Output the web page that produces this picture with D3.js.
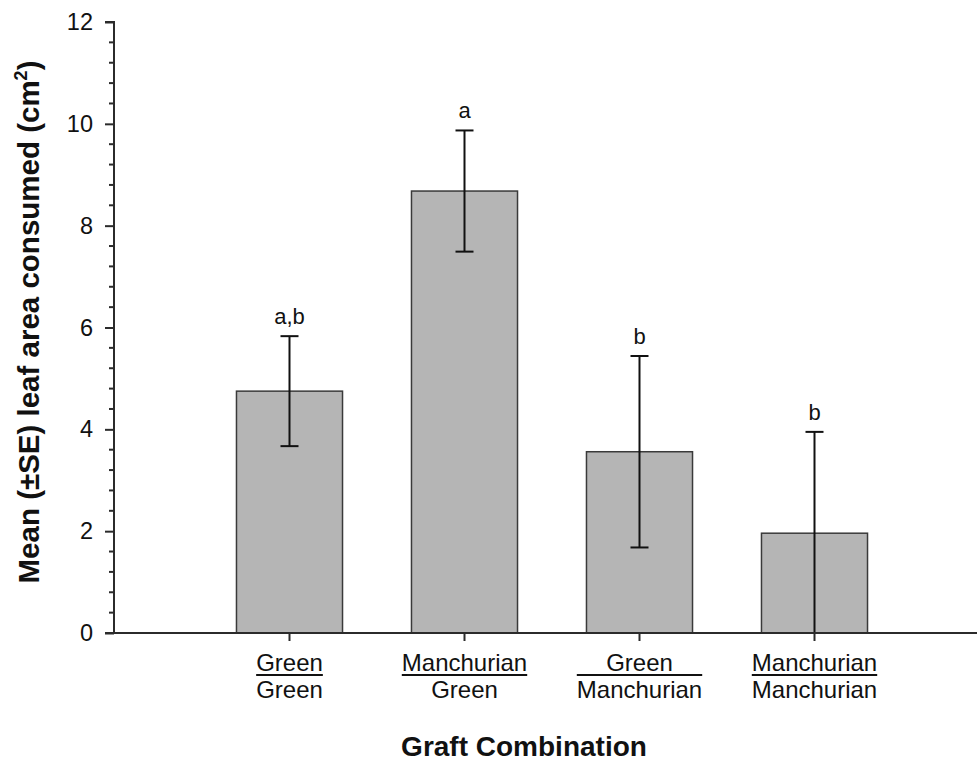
<!DOCTYPE html>
<html>
<head>
<meta charset="utf-8">
<script src="https://cdn.jsdelivr.net/npm/d3@7"></script>
<style>
  body { margin: 0; background: #fff; }
  svg { display: block; font-family: "Liberation Sans", Arial, Helvetica, sans-serif; }
</style>
</head>
<body>
<svg id="chart" width="977" height="763"></svg>
<script>
// ---- data ----
const scions = ["Green", "Manchurian", "Green", "Manchurian"];      // numerator (top)
const rootstocks = ["Green", "Green", "Manchurian", "Manchurian"];   // denominator (bottom)
const means = [4.75, 8.68, 3.56, 1.96];
const se = [1.08, 1.19, 1.88, 1.99];
const letters = ["a,b", "a", "b", "b"];
const yTicks = [0, 2, 4, 6, 8, 10, 12];

const svg = d3.select("#chart");
const axisColor = "#2b2b2b";
const x0 = 114, yBottom = 633, yTop = 22;

const cats = means.map((d, i) => i);
const x = d3.scaleBand().domain(cats).range([202, 902]).paddingInner(0.394).paddingOuter(0.197);
const y = d3.scaleLinear().domain([0, 12]).range([yBottom, yTop]);

// bars
svg.append("g").selectAll("rect").data(means).join("rect")
  .attr("x", (d, i) => x(i))
  .attr("y", d => y(d))
  .attr("width", x.bandwidth())
  .attr("height", d => y(0) - y(d))
  .attr("fill", "#b5b5b5")
  .attr("stroke", "#3a3a3a")
  .attr("stroke-width", 1.5);

// error bars
const capW = 9;
const eb = svg.append("g").attr("stroke", "#111").attr("stroke-width", 2);
means.forEach((m, i) => {
  const cx = x(i) + x.bandwidth() / 2;
  const hi = m + se[i], lo = Math.max(0, m - se[i]);
  eb.append("line").attr("x1", cx).attr("x2", cx).attr("y1", y(hi)).attr("y2", y(lo));
  eb.append("line").attr("x1", cx - capW).attr("x2", cx + capW).attr("y1", y(hi)).attr("y2", y(hi));
  if (lo > 0) eb.append("line").attr("x1", cx - capW).attr("x2", cx + capW).attr("y1", y(lo)).attr("y2", y(lo));
  svg.append("text").attr("x", cx).attr("y", y(hi) - 12)
    .attr("text-anchor", "middle").attr("font-size", 22).attr("fill", "#111")
    .text(letters[i]);
});

// y axis minor ticks
const minor = d3.range(0, 12.001, 0.4).filter(v => Math.abs(v / 2 - Math.round(v / 2)) > 1e-6);
svg.append("g").selectAll("line").data(minor).join("line")
  .attr("x1", x0 - 5).attr("x2", x0).attr("y1", d => y(d)).attr("y2", d => y(d))
  .attr("stroke", axisColor).attr("stroke-width", 2);

// y axis
const yAxis = svg.append("g").attr("transform", `translate(${x0},0)`)
  .call(d3.axisLeft(y).tickValues(yTicks).tickSize(9).tickPadding(12).tickFormat(d3.format("d")));
yAxis.select(".domain").attr("stroke", axisColor).attr("stroke-width", 2).attr("d", `M-9,${yTop}H0V${yBottom}`);
yAxis.selectAll(".tick line").attr("stroke", axisColor).attr("stroke-width", 2);
yAxis.selectAll(".tick text").attr("font-size", 23.5).attr("fill", "#111")
  .attr("font-family", "'Liberation Sans', Arial, sans-serif");

// x axis line
svg.append("line").attr("x1", x0 - 9).attr("x2", 977).attr("y1", yBottom).attr("y2", yBottom)
  .attr("stroke", axisColor).attr("stroke-width", 2);

// x ticks & labels
const xg = svg.append("g").attr("transform", `translate(0,${yBottom})`)
  .call(d3.axisBottom(x).tickSize(8).tickFormat(""));
xg.select(".domain").remove();
xg.selectAll(".tick line").attr("stroke", axisColor).attr("stroke-width", 2);

cats.forEach(i => {
  const cx = x(i) + x.bandwidth() / 2;
  const g = svg.append("g");
  const t1 = g.append("text").attr("x", cx).attr("y", 671).attr("text-anchor", "middle")
    .attr("font-size", 24).attr("fill", "#111").text(scions[i]);
  const t2 = g.append("text").attr("x", cx).attr("y", 698).attr("text-anchor", "middle")
    .attr("font-size", 24).attr("fill", "#111").text(rootstocks[i]);
  const w = Math.max(t1.node().getComputedTextLength(), t2.node().getComputedTextLength());
  g.append("line").attr("x1", cx - w / 2).attr("x2", cx + w / 2).attr("y1", 675).attr("y2", 675)
    .attr("stroke", "#111").attr("stroke-width", 2);
});

// axis titles
svg.append("text").attr("x", 524).attr("y", 756).attr("text-anchor", "middle")
  .attr("font-size", 28).attr("font-weight", "bold").attr("fill", "#111")
  .text("Graft Combination");

const yt = svg.append("text").attr("transform", "translate(39,322) rotate(-90)")
  .attr("text-anchor", "middle").attr("font-size", 29.5).attr("font-weight", "bold").attr("fill", "#111");
yt.append("tspan").text("Mean (±SE) leaf area consumed (cm");
yt.append("tspan").attr("font-size", 18).attr("dy", -12).text("2");
yt.append("tspan").attr("dy", 12).text(")");
</script>
</body>
</html>
